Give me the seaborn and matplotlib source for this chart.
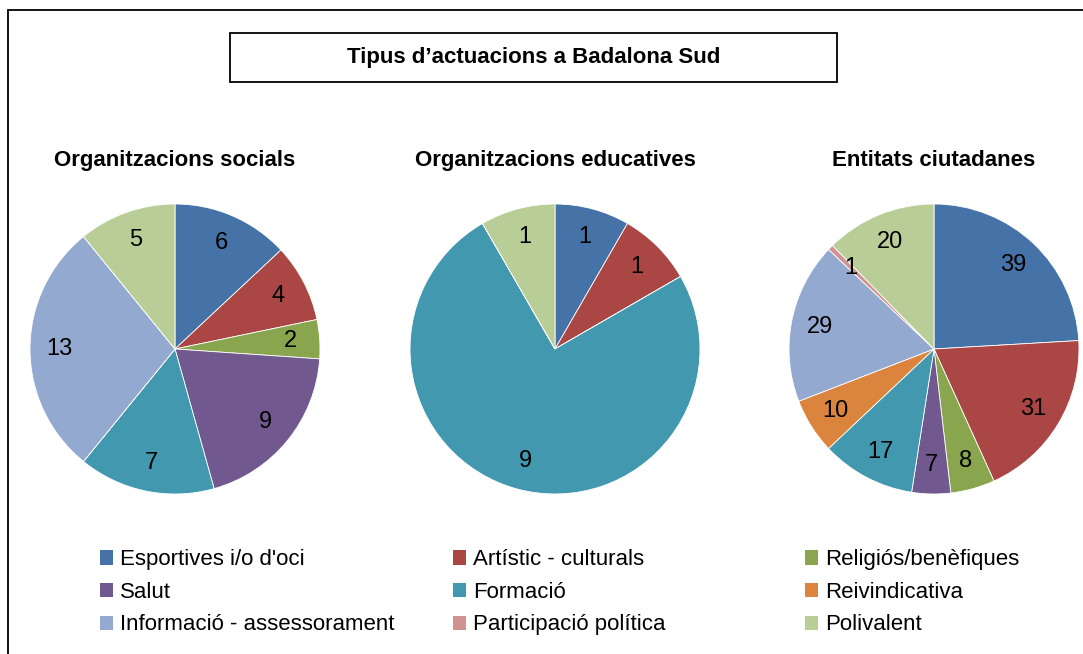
import matplotlib
matplotlib.use("Agg")
import matplotlib.pyplot as plt
from matplotlib.patches import Rectangle, Patch
import seaborn as sns

# categories (legend order)
categories = ["Esportives i/o d'oci", "Artístic - culturals", "Religiós/benèfiques",
              "Salut", "Formació", "Reivindicativa",
              "Informació - assessorament", "Participació política", "Polivalent"]

# values per group
org_socials = [6, 4, 2, 9, 7, 0, 13, 0, 5]
org_educatives = [1, 1, 0, 0, 9, 0, 0, 0, 1]
entitats_ciutadanes = [39, 31, 8, 7, 17, 10, 29, 1, 20]

group_titles = ["Organitzacions socials", "Organitzacions educatives", "Entitats ciutadanes"]
main_title = "Tipus d’actuacions a Badalona Sud"

colors = ["#4572A7", "#AA4643", "#89A54E", "#71588F", "#4198AF",
          "#DB843D", "#93A9CF", "#D19392", "#B9CD96"]

sns.set_theme(style="white")
plt.rcParams["font.family"] = ["Liberation Sans", "DejaVu Sans"]

fig = plt.figure(figsize=(10.83, 6.54), dpi=100)
fig.patch.set_facecolor("white")

# outer border
fig.patches.append(Rectangle((0.0078, -0.1), 1.2, 0.9847 + 0.1, transform=fig.transFigure,
                             fill=False, edgecolor="black", linewidth=1.3))

# title box
fig.patches.append(Rectangle((0.2124, 0.8746), 0.5605, 0.0749, transform=fig.transFigure,
                             fill=False, edgecolor="black", linewidth=1.3))
fig.text(0.4925, 0.8746 + 0.0749 / 2, main_title, ha="center", va="center",
         fontsize=16, fontweight="bold", color="black")


def make_autopct(vals):
    total = sum(vals)

    def f(pct):
        v = int(round(pct * total / 100.0))
        return str(v) if v > 0 else ""
    return f


w = 290 / 1083
h = 290 / 654
bottom = 160 / 654
lefts = [30 / 1083, 410 / 1083, 789 / 1083]
data = [org_socials, org_educatives, entitats_ciutadanes]

for left, vals, title in zip(lefts, data, group_titles):
    ax = fig.add_axes([left, bottom, w, h])
    wedges, texts, autotexts = ax.pie(vals, colors=colors, startangle=90, counterclock=False,
                                      autopct=make_autopct(vals), pctdistance=0.8,
                                      wedgeprops=dict(edgecolor="white", linewidth=0.6))
    for t in autotexts:
        t.set_fontsize(17)
        t.set_color("black")
    ax.set_xlim(-1, 1)
    ax.set_ylim(-1, 1)
    ax.set_aspect("equal")
    ax.text(0.5, 1.15, title, transform=ax.transAxes, ha="center", va="center",
            fontsize=16, fontweight="bold", color="black")

# legend: three columns, row-major order
handles = [Patch(facecolor=c, edgecolor="none") for c in colors]
col_x = [100 / 1083, 453 / 1083, 805 / 1083]
for i, x in enumerate(col_x):
    idx = [i, i + 3, i + 6]
    fig.legend([handles[j] for j in idx], [categories[j] for j in idx],
               loc="upper left", bbox_to_anchor=(x, 0.160), frameon=False,
               fontsize=16, handlelength=0.6, handleheight=0.6, handletextpad=0.3,
               labelspacing=0.52, borderpad=0, borderaxespad=0, labelcolor="black")

fig.savefig("out.png", dpi=100, facecolor="white")
